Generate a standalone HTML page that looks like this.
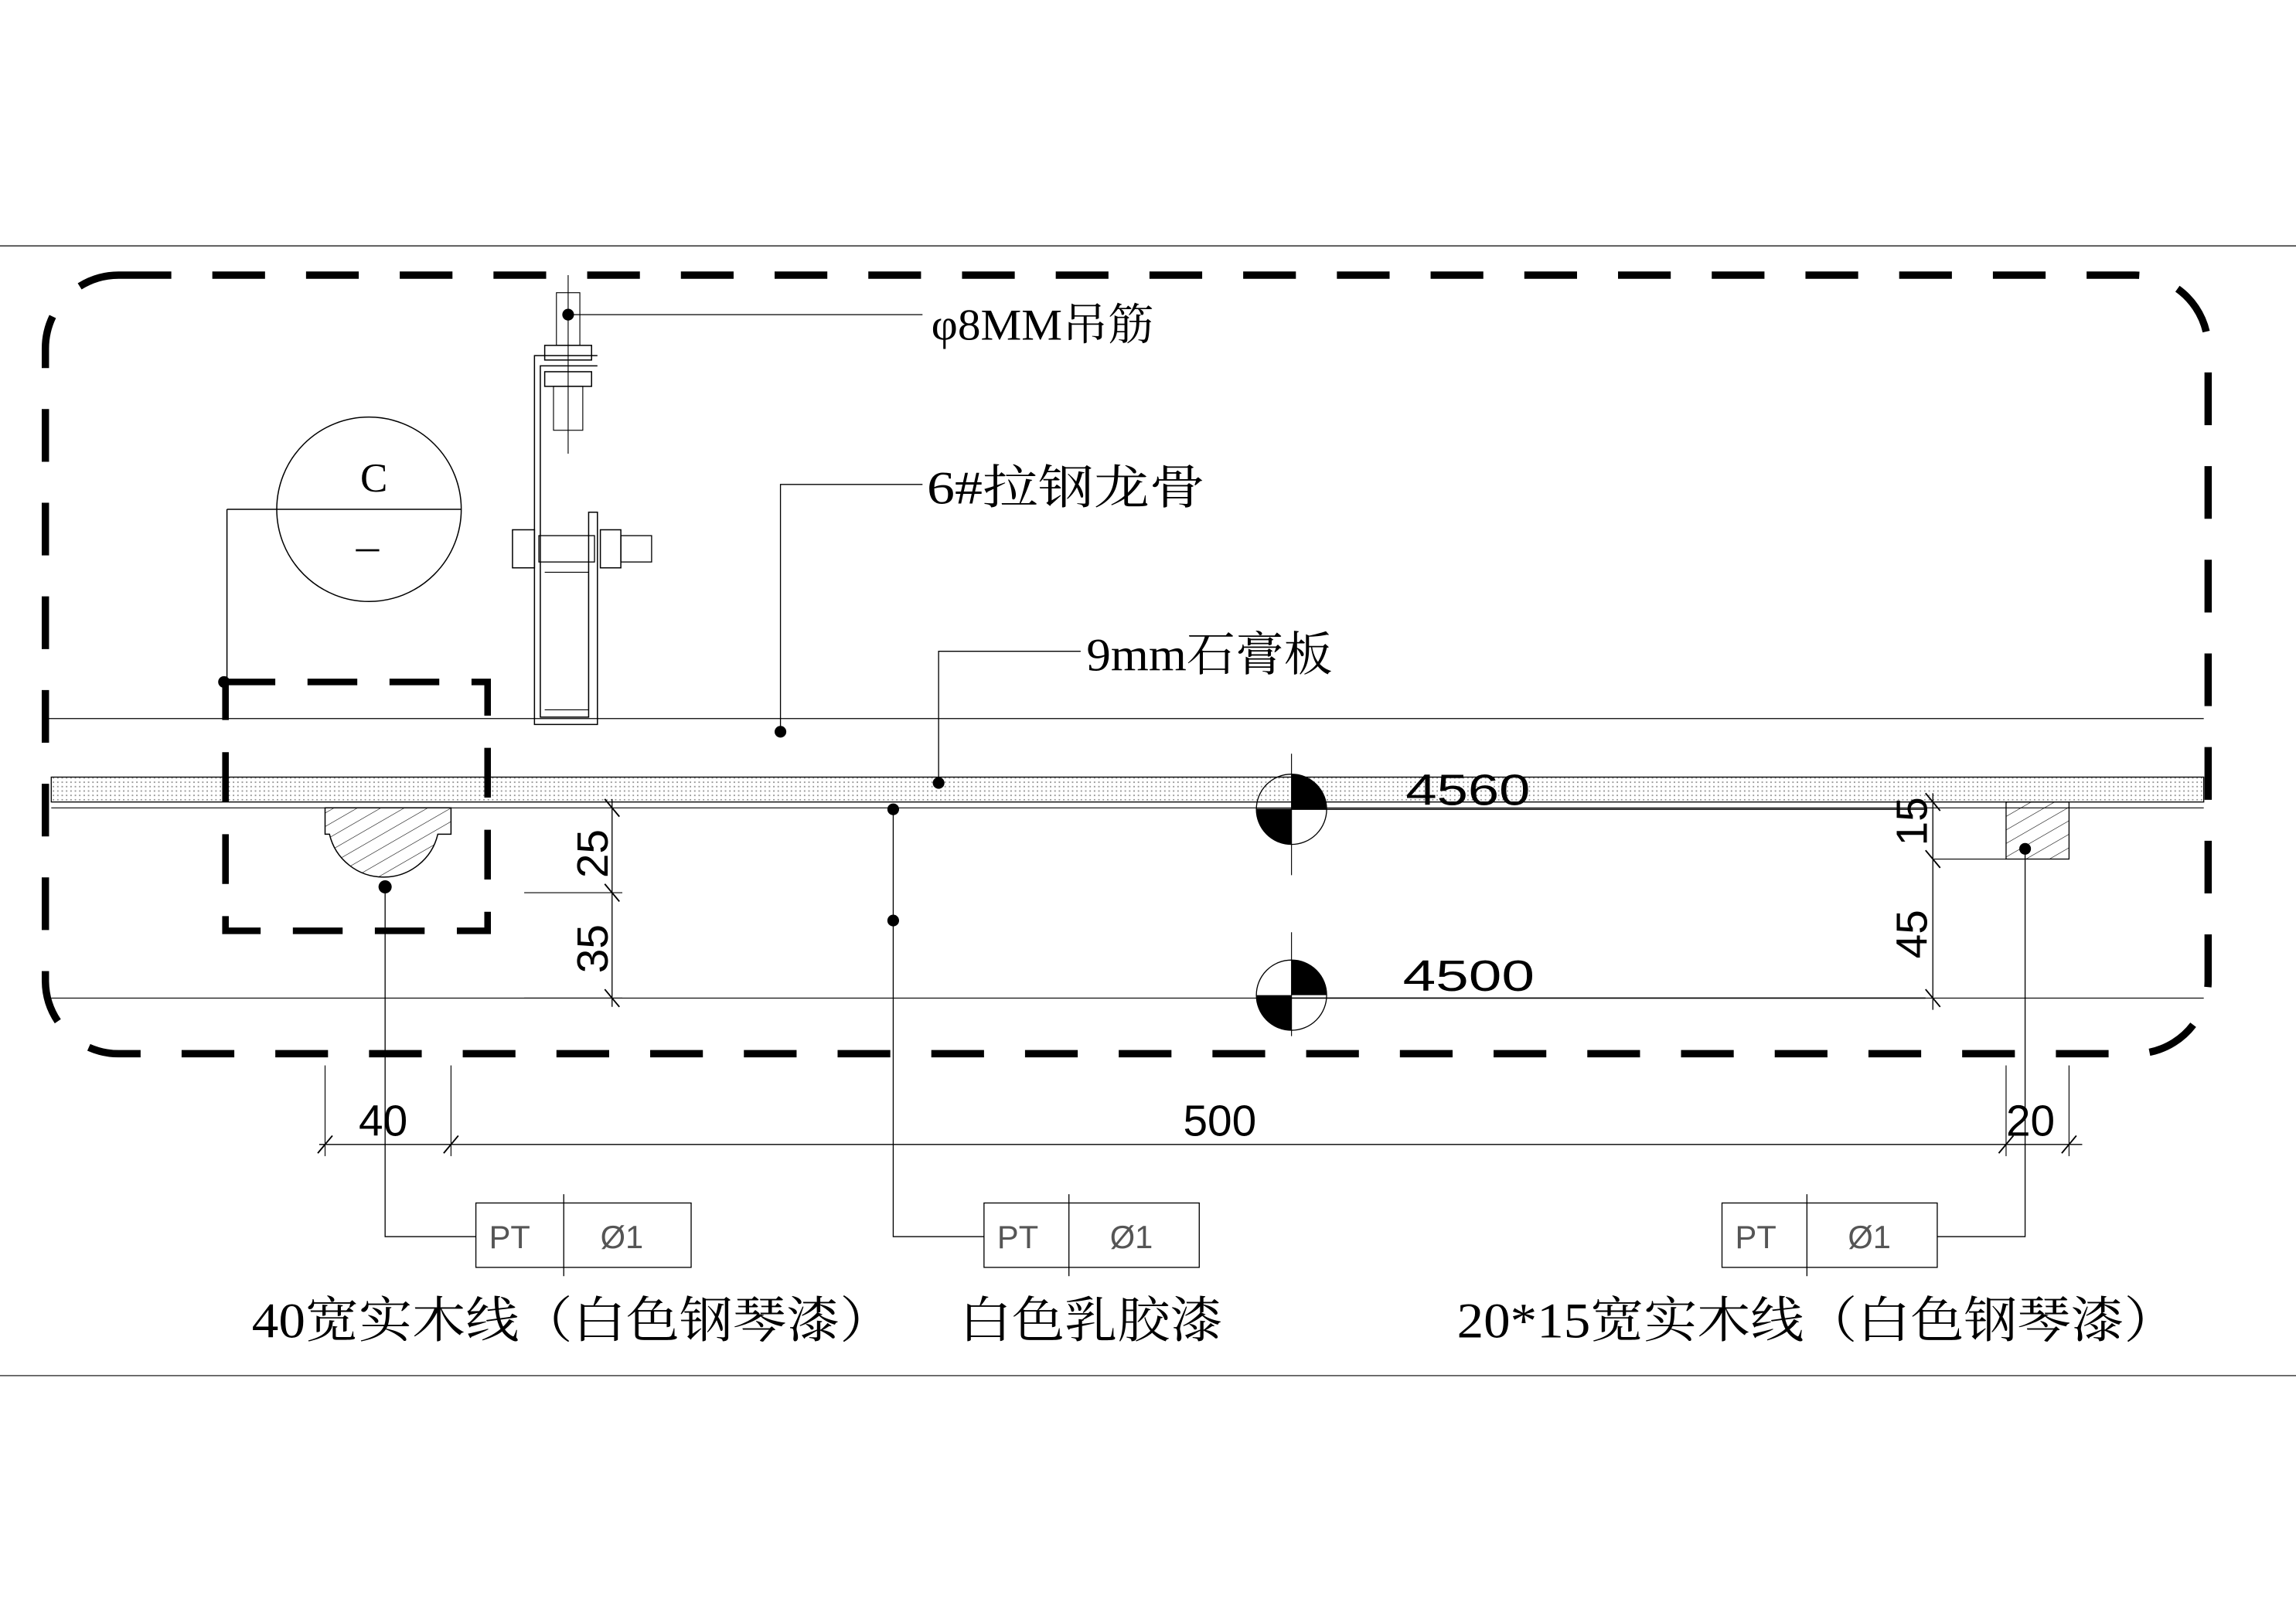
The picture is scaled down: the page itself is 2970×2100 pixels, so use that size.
<!DOCTYPE html>
<html><head><meta charset="utf-8"><style>html,body{margin:0;padding:0;background:#fff}svg{display:block}</style></head>
<body>
<svg width="2970" height="2100" viewBox="0 0 1568 1109" preserveAspectRatio="none" xmlns="http://www.w3.org/2000/svg">
<defs>
<pattern id="dots" width="3" height="3" patternUnits="userSpaceOnUse"><rect width="3" height="3" fill="#fff"/><rect width="1" height="1" fill="#999"/></pattern>
<pattern id="hatch" width="8" height="8" patternUnits="userSpaceOnUse" patternTransform="rotate(60)"><line x1="0" y1="0" x2="0" y2="8" stroke="#000" stroke-width="0.6"/></pattern>
</defs>
<g fill="none" stroke="#000">
<line x1="0" y1="168" x2="1568" y2="168" stroke-width="0.6"/>
<line x1="0" y1="940" x2="1568" y2="940" stroke-width="0.6"/>
<rect x="31" y="188" width="1477" height="532" rx="50" ry="50" stroke-width="5" stroke-dasharray="36,28"/>
<line x1="32" y1="491" x2="1505" y2="491" stroke-width="0.7"/>
<rect x="35" y="531" width="1470" height="17" fill="url(#dots)" stroke-width="0.7"/>
<line x1="35" y1="552" x2="1505" y2="552" stroke-width="0.6"/>
<line x1="35" y1="682" x2="1505" y2="682" stroke-width="0.6"/>
<rect x="154" y="466" width="179" height="170" stroke-width="4.5" stroke-dasharray="34,22"/>
<path d="M222 552 H308 V570 H299 A38 38 0 0 1 225 570 H222 Z" fill="url(#hatch)" stroke-width="0.8"/>
<circle cx="252" cy="348" r="63" stroke-width="0.8"/>
<line x1="155" y1="348" x2="315" y2="348" stroke-width="0.8"/>
<polyline points="155,466 155,348" stroke-width="0.8"/>
<line x1="243" y1="376" x2="259" y2="376" stroke-width="1.5"/>
<line x1="388" y1="188" x2="388" y2="310" stroke-width="0.6"/>
<rect x="380" y="200" width="16" height="36" stroke-width="0.6"/>
<rect x="372" y="236" width="32" height="10" stroke-width="0.8"/>
<polyline points="408,243 365,243 365,495 408,495 408,350 402,350 402,490 369,490 369,250 408,250" stroke-width="0.8"/>
<rect x="372" y="254" width="32" height="10" stroke-width="0.8"/>
<rect x="378" y="264" width="20" height="30" stroke-width="0.6"/>
<rect x="350" y="362" width="15" height="26" stroke-width="0.8"/>
<rect x="368" y="366" width="38" height="18" stroke-width="0.7"/>
<rect x="410" y="362" width="14" height="26" stroke-width="0.8"/>
<rect x="424" y="366" width="21" height="18" stroke-width="0.7"/>
<polyline points="372,391 402,391 402,485 372,485" stroke-width="0.6"/>
<line x1="388" y1="215" x2="630" y2="215" stroke-width="0.7"/>
<polyline points="533,500 533,331 630,331" stroke-width="0.7"/>
<polyline points="641,535 641,445 738,445" stroke-width="0.7"/>
<polyline points="610,553 610,845 672,845" stroke-width="0.7"/>
<polyline points="263,606 263,845 325,845" stroke-width="0.7"/>
<polyline points="1383,580 1383,845 1323,845" stroke-width="0.7"/>
<line x1="882" y1="515" x2="882" y2="598" stroke-width="0.6"/>
<line x1="882" y1="637" x2="882" y2="708" stroke-width="0.6"/>
<circle cx="882" cy="553" r="24" stroke-width="0.7"/>
<circle cx="882" cy="680" r="24" stroke-width="0.7"/>
<line x1="858" y1="553" x2="1315" y2="553" stroke-width="0.8"/>
<line x1="858" y1="682" x2="1315" y2="682" stroke-width="0.8"/>
<rect x="1370" y="548" width="43" height="39" fill="url(#hatch)" stroke-width="0.7"/>
<line x1="418" y1="546" x2="418" y2="688" stroke-width="0.7"/>
<line x1="358" y1="610" x2="425" y2="610" stroke-width="0.6"/>
<line x1="358" y1="682" x2="425" y2="682" stroke-width="0.6"/>
<g stroke-width="1"><line x1="413" y1="546" x2="423" y2="558"/><line x1="413" y1="604" x2="423" y2="616"/><line x1="413" y1="676" x2="423" y2="688"/>
<line x1="1315" y1="542" x2="1325" y2="554"/><line x1="1315" y1="581" x2="1325" y2="593"/><line x1="1315" y1="676" x2="1325" y2="688"/>
<line x1="217" y1="788" x2="227" y2="776"/><line x1="303" y1="788" x2="313" y2="776"/><line x1="1365" y1="788" x2="1375" y2="776"/><line x1="1408" y1="788" x2="1418" y2="776"/></g>
<line x1="1320" y1="542" x2="1320" y2="690" stroke-width="0.7"/>
<line x1="1320" y1="587" x2="1370" y2="587" stroke-width="0.6"/>
<line x1="218" y1="782" x2="1422" y2="782" stroke-width="0.7"/>
<line x1="222" y1="728" x2="222" y2="790" stroke-width="0.6"/>
<line x1="308" y1="728" x2="308" y2="790" stroke-width="0.6"/>
<line x1="1370" y1="728" x2="1370" y2="790" stroke-width="0.6"/>
<line x1="1413" y1="728" x2="1413" y2="790" stroke-width="0.6"/>
<rect x="325" y="822" width="147" height="44" stroke-width="0.7"/><line x1="385" y1="816" x2="385" y2="872" stroke-width="0.7"/>
<rect x="672" y="822" width="147" height="44" stroke-width="0.7"/><line x1="730" y1="816" x2="730" y2="872" stroke-width="0.7"/>
<rect x="1176" y="822" width="147" height="44" stroke-width="0.7"/><line x1="1234" y1="816" x2="1234" y2="872" stroke-width="0.7"/>
</g>
<g fill="#000">
<path d="M882 529 A24 24 0 0 1 906 553 H882 Z"/><path d="M882 577 A24 24 0 0 1 858 553 H882 Z"/>
<path d="M882 656 A24 24 0 0 1 906 680 H882 Z"/><path d="M882 704 A24 24 0 0 1 858 680 H882 Z"/>
<circle cx="153" cy="466" r="4"/><circle cx="263" cy="606" r="4.5"/><circle cx="388" cy="215" r="4"/>
<circle cx="533" cy="500" r="4"/><circle cx="641" cy="535" r="4"/><circle cx="610" cy="553" r="4"/><circle cx="610" cy="629" r="4"/><circle cx="1383" cy="580" r="4"/>
</g>
<g font-family="'Liberation Serif','Noto Serif CJK SC',serif" fill="#000">
<text x="246" y="336" font-size="28">C</text>
<text x="636" y="232" font-size="30" textLength="152" lengthAdjust="spacingAndGlyphs">φ8MM吊筋</text>
<text x="633" y="344" font-size="32" textLength="190" lengthAdjust="spacingAndGlyphs">6#拉钢龙骨</text>
<text x="742" y="458" font-size="32" textLength="168" lengthAdjust="spacingAndGlyphs">9mm石膏板</text>
<text x="172" y="914" font-size="34" textLength="438" lengthAdjust="spacingAndGlyphs">40宽实木线（白色钢琴漆）</text>
<text x="655" y="914" font-size="34" textLength="180" lengthAdjust="spacingAndGlyphs">白色乳胶漆</text>
<text x="995" y="914" font-size="34" textLength="492" lengthAdjust="spacingAndGlyphs">20*15宽实木线（白色钢琴漆）</text>
</g>
<g font-family="'Liberation Sans',sans-serif" fill="#000" font-size="30">
<text x="960" y="550" textLength="85" lengthAdjust="spacingAndGlyphs">4560</text>
<text x="958" y="677" textLength="90" lengthAdjust="spacingAndGlyphs">4500</text>
<text x="245" y="776">40</text>
<text x="808" y="776">500</text>
<text x="1370" y="776">20</text>
<text transform="translate(415,600) rotate(-90)">25</text>
<text transform="translate(415,665) rotate(-90)">35</text>
<text transform="translate(1316,578) rotate(-90)">15</text>
<text transform="translate(1316,655) rotate(-90)">45</text>
<g font-size="22" fill="#555"><text x="334" y="853">PT</text><text x="410" y="853">Ø1</text>
<text x="681" y="853">PT</text><text x="758" y="853">Ø1</text>
<text x="1185" y="853">PT</text><text x="1262" y="853">Ø1</text></g>
</g>
</svg>
</body></html>
